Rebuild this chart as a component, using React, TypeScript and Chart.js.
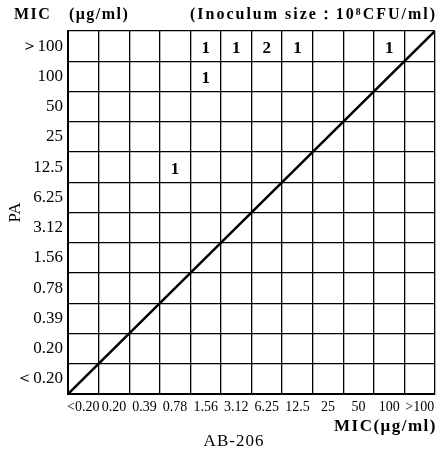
import React, { useEffect, useRef } from 'react';
import { Chart, registerables } from 'chart.js';
Chart.register(...registerables);

const xCategories = ['<0.20', '0.20', '0.39', '0.78', '1.56', '3.12', '6.25', '12.5', '25', '50', '100', '>100'];
const yCategories = ['＜0.20', '0.20', '0.39', '0.78', '1.56', '3.12', '6.25', '12.5', '25', '50', '100', '＞100'];

// cells with strain counts: x category index, y category index, count
const cellX = [4, 5, 6, 7, 10, 4, 3];
const cellY = [11, 11, 11, 11, 11, 10, 7];
const cellCount = [1, 1, 2, 1, 1, 1, 1];

// line of equality, from first to last category boundary
const diagonal = [0, xCategories.length];

const topLeftText = 'MIC\u3000(μg/ml)';
const topRightText = '(Inoculum size：10⁸CFU/ml)';
const xAxisText = 'MIC(μg/ml)';
const drugText = 'AB-206';
const yAxisText = 'PA';

const SERIF = "'Liberation Serif', 'DejaVu Serif', serif";

export default function App() {
  const ref = useRef<HTMLCanvasElement | null>(null);

  useEffect(() => {
    document.body.style.margin = '0';
    const canvas = ref.current;
    if (!canvas) return;

    const countPlugin = {
      id: 'cellCounts',
      afterDatasetsDraw(chart: any) {
        const ctx = chart.ctx;
        const meta = chart.getDatasetMeta(1);
        ctx.save();
        ctx.fillStyle = '#000';
        ctx.font = `bold 17px ${SERIF}`;
        ctx.textAlign = 'center';
        ctx.textBaseline = 'middle';
        meta.data.forEach((pt: any, i: number) => {
          ctx.fillText(String(cellCount[i]), pt.x, pt.y + 2);
        });
        ctx.restore();
      },
    };

    const notePlugin = {
      id: 'notes',
      afterDraw(chart: any) {
        const ctx = chart.ctx;
        const a = chart.chartArea;
        ctx.save();
        ctx.fillStyle = '#000';
        ctx.textBaseline = 'alphabetic';
        (ctx as any).letterSpacing = '1.5px';
        ctx.font = `bold 16px ${SERIF}`;
        ctx.textAlign = 'left';
        ctx.fillText(topLeftText, 14, 19);
        (ctx as any).letterSpacing = '2px';
        ctx.textAlign = 'right';
        ctx.fillText(topRightText, a.right + 2, 19, 247);
        (ctx as any).letterSpacing = '1.5px';
        ctx.font = `bold 17px ${SERIF}`;
        ctx.fillText(xAxisText, a.right + 2, 431);
        (ctx as any).letterSpacing = '1px';
        ctx.font = `17px ${SERIF}`;
        ctx.textAlign = 'center';
        ctx.fillText(drugText, 234, 446);
        ctx.restore();
      },
    };

    const chart = new Chart(canvas, {
      type: 'line',
      data: {
        datasets: [
          {
            type: 'line',
            data: diagonal.map((v) => ({ x: v, y: v })),
            borderColor: '#000',
            borderWidth: 2.5,
            pointRadius: 0,
            fill: false,
          },
          {
            type: 'scatter',
            data: cellX.map((x, i) => ({ x: x + 0.5, y: cellY[i] + 0.5 })),
            pointRadius: 0,
            borderWidth: 0,
          },
        ],
      },
      options: {
        animation: false,
        responsive: false,
        maintainAspectRatio: false,
        layout: { padding: { top: 31, right: 2, bottom: 22, left: 0 } },
        plugins: {
          legend: { display: false },
          tooltip: { enabled: false },
        },
        scales: {
          x: {
            type: 'linear',
            min: 0,
            max: xCategories.length,
            afterBuildTicks: (scale: any) => {
              scale.ticks = xCategories.map((_, i) => ({ value: i + 0.5 }));
            },
            afterFit: (scale: any) => {
              scale.height = 33;
              scale.paddingLeft = 0;
              scale.paddingRight = 0;
            },
            ticks: {
              autoSkip: false,
              maxRotation: 0,
              padding: 5,
              color: '#000',
              font: { family: SERIF, size: 14 },
              callback: (_v: any, i: number) => xCategories[i],
            },
            grid: { offset: true, color: '#000', lineWidth: 1.3, drawTicks: false },
            border: { color: '#000', width: 2 },
          },
          y: {
            type: 'linear',
            min: 0,
            max: yCategories.length,
            afterBuildTicks: (scale: any) => {
              scale.ticks = yCategories.map((_, i) => ({ value: i + 0.5 }));
            },
            afterFit: (scale: any) => {
              scale.width = 68;
              scale.paddingTop = 0;
              scale.paddingBottom = 0;
            },
            ticks: {
              autoSkip: false,
              padding: 5,
              color: '#000',
              font: { family: SERIF, size: 17 },
              callback: (_v: any, i: number) => yCategories[i],
            },
            title: {
              display: true,
              text: yAxisText,
              color: '#000',
              font: { family: SERIF, size: 17 },
              padding: { top: 5, bottom: 0 },
            },
            grid: { offset: true, color: '#000', lineWidth: 1.3, drawTicks: false },
            border: { color: '#000', width: 2 },
          },
        },
      },
      plugins: [countPlugin, notePlugin],
    } as any);

    return () => chart.destroy();
  }, []);

  return (
    <div style={{ width: 437, height: 449 }}>
      <canvas ref={ref} width={437} height={449} style={{ display: 'block', width: 437, height: 449 }} />
    </div>
  );
}
